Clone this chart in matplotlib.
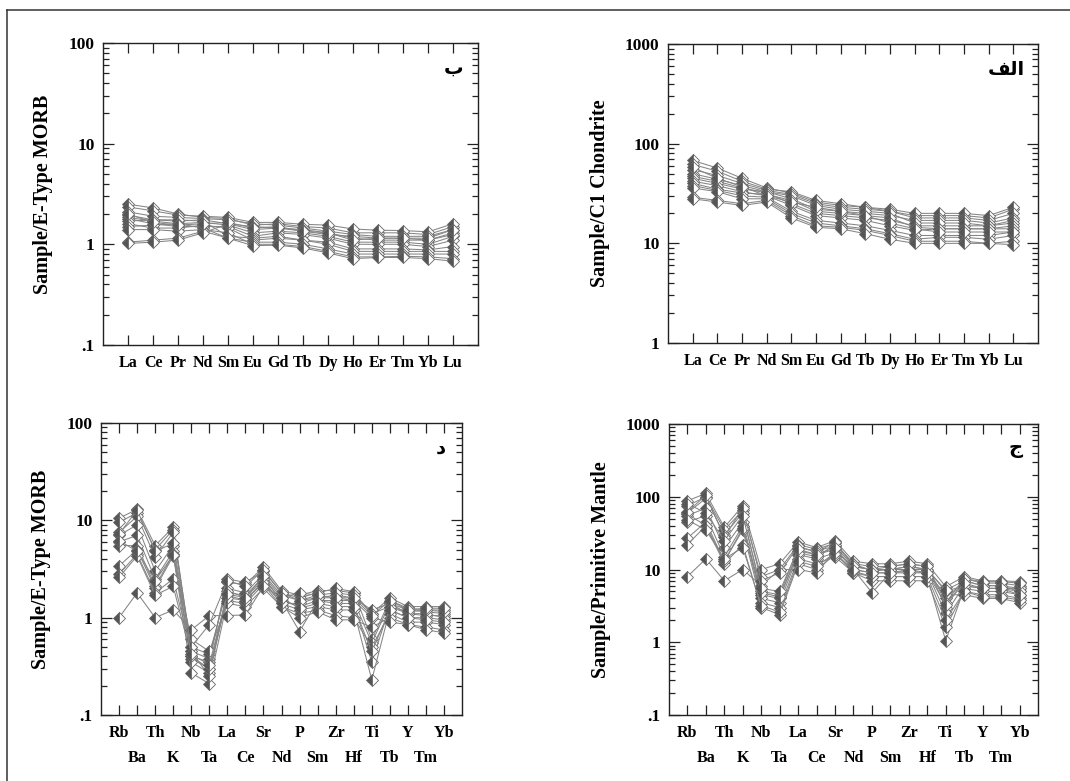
import matplotlib.pyplot as plt
import numpy as np
from matplotlib.lines import Line2D
from matplotlib.ticker import FixedLocator, LogLocator, NullFormatter

plt.rcParams['font.family'] = ['Liberation Serif', 'DejaVu Sans']
plt.rcParams['font.weight'] = 'bold'

# --- data -----------------------------------------------------------------
ree = ['La', 'Ce', 'Pr', 'Nd', 'Sm', 'Eu', 'Gd', 'Tb', 'Dy', 'Ho', 'Er', 'Tm', 'Yb', 'Lu']
spider_el = ['Rb', 'Ba', 'Th', 'K', 'Nb', 'Ta', 'La', 'Ce', 'Sr', 'Nd',
             'P', 'Sm', 'Zr', 'Hf', 'Ti', 'Tb', 'Y', 'Tm', 'Yb']

# REE / E-type MORB  (panel ب)
ree_morb = [
    [2.50, 2.30, 2.00, 1.85, 1.80, 1.55, 1.60, 1.50, 1.45, 1.30, 1.30, 1.30, 1.25, 1.50],
    [2.35, 2.15, 1.95, 1.90, 1.85, 1.65, 1.65, 1.58, 1.55, 1.42, 1.38, 1.37, 1.33, 1.60],
    [2.10, 1.90, 1.85, 1.80, 1.75, 1.60, 1.55, 1.45, 1.35, 1.25, 1.20, 1.20, 1.20, 1.40],
    [1.95, 1.75, 1.70, 1.75, 1.60, 1.40, 1.45, 1.40, 1.30, 1.15, 1.10, 1.10, 1.10, 1.30],
    [1.85, 1.70, 1.60, 1.65, 1.55, 1.30, 1.35, 1.30, 1.20, 1.05, 1.05, 1.05, 1.00, 1.20],
    [1.80, 1.60, 1.50, 1.50, 1.50, 1.20, 1.30, 1.25, 1.15, 1.00, 1.00, 1.00, 0.95, 1.10],
    [1.70, 1.75, 1.75, 1.70, 1.20, 1.15, 1.20, 1.10, 1.05, 0.90, 0.90, 0.90, 0.88, 0.95],
    [1.60, 1.45, 1.45, 1.55, 1.45, 1.10, 1.15, 1.10, 1.00, 0.85, 0.85, 0.85, 0.85, 0.85],
    [1.50, 1.55, 1.60, 1.45, 1.15, 1.05, 1.05, 1.00, 0.90, 0.80, 0.80, 0.80, 0.80, 0.80],
    [1.40, 1.40, 1.35, 1.40, 1.30, 1.00, 1.00, 0.95, 0.85, 0.75, 0.75, 0.76, 0.75, 0.72],
    [1.05, 1.10, 1.15, 1.35, 1.15, 0.97, 0.98, 0.92, 0.82, 0.72, 0.74, 0.74, 0.72, 0.68],
    [1.02, 1.05, 1.10, 1.30, 1.60, 1.50, 1.45, 1.35, 1.25, 1.20, 1.15, 1.15, 1.10, 1.25],
    [2.00, 1.65, 1.55, 1.60, 1.65, 1.45, 1.50, 1.35, 1.30, 1.10, 1.15, 1.15, 1.15, 1.40],
]

# REE / C1 chondrite  (panel الف)
ree_chon = [
    [68, 57, 45, 36, 32, 26, 24, 23, 21, 19, 19, 19, 18, 22],
    [62, 53, 42, 35, 33, 27, 25, 23, 22, 20, 20, 20, 19, 23],
    [55, 48, 40, 34, 31, 25, 23, 22, 21, 18, 18, 18, 17, 20],
    [50, 44, 38, 33, 28, 22, 21, 20, 19, 17, 17, 17, 16, 18],
    [47, 42, 36, 32, 25, 20, 19, 18, 17, 15, 15, 15, 15, 17],
    [45, 40, 35, 33, 30, 24, 22, 21, 20, 16, 16, 16, 15, 16],
    [42, 38, 33, 30, 24, 19, 18, 17, 15, 13.5, 14, 14, 14, 15],
    [40, 35, 32, 31, 27, 21, 20, 19, 18, 14.5, 14, 14, 14, 14],
    [38, 34, 30, 29, 21, 17, 16, 15, 13.5, 12, 12, 12, 12, 13],
    [36, 33, 28, 28, 20, 16, 15, 14, 12.5, 11, 11.5, 11.5, 11, 12],
    [29, 27, 25, 27, 19, 15, 14.5, 13.5, 12, 10.5, 10.5, 10.5, 10, 10.5],
    [28, 26, 24, 26, 18, 14.5, 14, 12.5, 11, 10, 10, 10, 10, 9.7],
    [58, 45, 37, 30, 26, 23, 21, 19, 16, 14, 13, 13, 13, 13],
]

# multi-element / E-type MORB  (panel د)
spider_morb = [
    [10.5, 13.0, 5.5, 8.5, 0.45, 0.38, 2.3, 2.2, 3.3, 1.9, 1.7, 1.9, 1.9, 1.8, 1.10, 1.6, 1.30, 1.30, 1.30],
    [9.5, 12.0, 5.0, 8.0, 0.40, 0.35, 2.5, 2.3, 3.0, 1.8, 1.6, 1.8, 2.0, 1.85, 0.60, 1.5, 1.25, 1.20, 1.20],
    [7.5, 11.0, 4.2, 7.5, 0.50, 0.42, 2.0, 1.8, 2.8, 1.7, 1.5, 1.6, 1.6, 1.5, 0.55, 1.4, 1.20, 1.15, 1.10],
    [7.0, 9.0, 3.0, 5.5, 0.38, 0.30, 1.8, 1.7, 2.6, 1.5, 1.3, 1.5, 1.4, 1.4, 0.35, 1.3, 1.10, 1.05, 1.05],
    [6.0, 7.0, 2.5, 4.8, 0.35, 0.27, 1.7, 1.5, 2.4, 1.4, 1.2, 1.3, 1.2, 1.2, 0.23, 1.2, 1.00, 1.00, 0.95],
    [5.5, 5.5, 2.1, 4.5, 0.27, 0.21, 1.5, 1.4, 2.2, 1.3, 1.1, 1.2, 1.05, 1.0, 0.50, 1.1, 0.90, 0.90, 0.85],
    [3.4, 5.0, 2.0, 4.3, 0.60, 0.45, 1.4, 1.3, 2.0, 1.3, 1.0, 1.15, 0.95, 0.95, 0.80, 1.0, 0.85, 0.80, 0.75],
    [2.8, 4.5, 1.8, 2.5, 0.45, 0.25, 1.9, 1.6, 2.5, 1.5, 0.72, 1.5, 1.5, 1.5, 1.00, 0.9, 0.85, 0.75, 0.70],
    [2.6, 4.3, 1.7, 2.1, 0.40, 0.30, 1.6, 1.5, 2.3, 1.4, 1.4, 1.6, 1.7, 1.6, 1.20, 1.4, 1.10, 1.10, 1.00],
    [1.0, 1.8, 1.0, 1.2, 0.75, 1.05, 1.05, 1.07, 2.1, 1.6, 1.8, 1.7, 1.8, 1.7, 1.10, 1.3, 1.15, 1.20, 1.15],
    [7.2, 12.8, 4.8, 5.8, 0.50, 0.85, 2.4, 2.1, 3.1, 1.8, 1.5, 1.7, 1.6, 1.6, 1.05, 1.5, 1.20, 1.25, 1.25],
    [6.2, 4.8, 2.4, 4.4, 0.42, 0.33, 1.75, 1.6, 2.7, 1.6, 1.25, 1.4, 1.3, 1.3, 0.45, 1.2, 1.00, 0.95, 0.90],
]

# multi-element / primitive mantle  (panel ج)
spider_pm = [
    [88, 111, 38, 75, 10, 12, 24, 20, 25, 13, 12, 12, 13, 12, 5.8, 8.0, 7.0, 7.0, 6.8],
    [75, 100, 35, 65, 8, 10, 22, 19, 23, 12, 11, 11, 12, 11, 3.0, 7.5, 6.5, 6.5, 6.0],
    [60, 95, 30, 60, 5, 4.5, 20, 18, 21, 11, 10, 10, 11, 10, 4.0, 7.0, 6.0, 6.0, 5.5],
    [55, 70, 20, 45, 4.5, 4, 18, 16, 19, 10, 9, 9, 10, 9, 2.5, 6.0, 5.5, 5.5, 5.0],
    [45, 55, 15, 40, 4, 3.5, 16, 14, 17, 9, 8, 8, 8, 8, 1.05, 5.5, 5.0, 5.0, 4.5],
    [27, 45, 13, 35, 3.5, 3, 14, 12, 15, 9, 7, 7, 7, 7, 1.6, 5.0, 4.5, 4.5, 4.0],
    [22, 40, 12, 22, 3, 2.4, 12, 10, 16, 10, 4.8, 9, 9, 9, 4.5, 4.5, 4.0, 4.0, 3.5],
    [8, 14, 7, 10, 6, 10, 10, 9, 18, 11, 10, 10, 11, 10, 5.0, 6.0, 5.5, 5.5, 5.5],
    [58, 40, 13, 37, 4.8, 4.2, 17, 15, 22, 12, 9.5, 10, 10, 10, 5.2, 7.0, 6.0, 6.0, 5.0],
    [62, 105, 28, 70, 7, 9, 21, 17, 24, 11, 10, 11, 12, 11, 3.5, 7.5, 6.8, 6.8, 6.5],
    [48, 35, 14, 20, 3.2, 2.6, 13, 11, 17, 9.5, 8, 8, 8, 8, 2.0, 5.0, 4.2, 4.2, 3.8],
    [80, 60, 25, 55, 5.5, 5, 19, 16, 20, 10, 9, 9, 9.5, 9, 3.3, 6.5, 5.5, 5.5, 4.5],
]

# panel letters (Arabic, written in presentation forms, visual order)
letter_b = '\u0628'                 # ب
letter_alef = '\uFED2\uFEDF\uFE8D'   # الف
letter_d = '\u062F'                 # د
letter_j = '\u062C'                 # ج


def tick_text(v):
    return '.1' if v < 1 else str(int(v))


def spider(ax, elements, samples, ylim, ylabel, letter, lx=0.94, two_rows=False):
    x = np.arange(1, len(elements) + 1)
    for s in samples:
        ax.plot(x, s, color='#858585', lw=0.75, marker='D', ms=6.4,
                fillstyle='left', markerfacecolor='#555555',
                markerfacecoloralt='white', markeredgecolor='#666666',
                markeredgewidth=0.6)
    ax.set_yscale('log')
    ax.set_ylim(*ylim)
    ax.set_xlim(0, len(elements) + 1)

    yt = [10.0 ** k for k in range(int(np.log10(ylim[0])), int(np.log10(ylim[1])) + 1)]
    ax.yaxis.set_major_locator(FixedLocator(yt))
    ax.set_yticklabels([tick_text(v) for v in yt])
    ax.yaxis.set_minor_locator(LogLocator(base=10, subs=np.arange(2, 10)))
    ax.yaxis.set_minor_formatter(NullFormatter())

    ax.set_xticks(x)
    ax.set_xticklabels(elements)

    ax.tick_params(axis='both', which='both', direction='in', top=True, right=True,
                   width=0.9, color='#222222')
    ax.tick_params(axis='x', which='major', length=7, pad=7, labelsize=11.5)
    ax.tick_params(axis='y', which='major', length=8, pad=6, labelsize=12.5)
    ax.tick_params(axis='y', which='minor', length=4)
    if two_rows:
        # every second element label goes on a lower row
        for i, tk in enumerate(ax.xaxis.get_major_ticks()):
            if i % 2 == 1:
                tk.set_pad(25)
    for sp in ax.spines.values():
        sp.set_linewidth(1.0)
        sp.set_color('#222222')

    ax.set_ylabel(ylabel, fontsize=14.5, fontweight='bold', labelpad=11)
    ax.text(lx, 0.915, letter, transform=ax.transAxes, ha='center', va='center',
            fontsize=14, fontweight='bold', family=['DejaVu Sans'])


fig = plt.figure(figsize=(10.7, 7.81), dpi=100)

ax1 = fig.add_axes([0.0963, 0.5583, 0.3505, 0.3867])
spider(ax1, ree, ree_morb, (0.1, 100), 'Sample/E-Type MORB', letter_b, lx=0.935)

ax2 = fig.add_axes([0.6243, 0.5608, 0.3458, 0.3828])
spider(ax2, ree, ree_chon, (1, 1000), 'Sample/C1 Chondrite', letter_alef, lx=0.915)

ax3 = fig.add_axes([0.0944, 0.0845, 0.3374, 0.3739])
spider(ax3, spider_el, spider_morb, (0.1, 100), 'Sample/E-Type MORB', letter_d, two_rows=True)

ax4 = fig.add_axes([0.6252, 0.0845, 0.3449, 0.3726])
spider(ax4, spider_el, spider_pm, (0.1, 1000), 'Sample/Primitive Mantle', letter_j, two_rows=True)

# outer frame (top and left edges of the original figure box)
fig.add_artist(Line2D([0.0065, 1.0], [0.987, 0.987], transform=fig.transFigure,
                      color='#333333', lw=1.1))
fig.add_artist(Line2D([0.0065, 0.0065], [0.0, 0.987], transform=fig.transFigure,
                      color='#333333', lw=1.1))

fig.savefig('out.png', dpi=100)
